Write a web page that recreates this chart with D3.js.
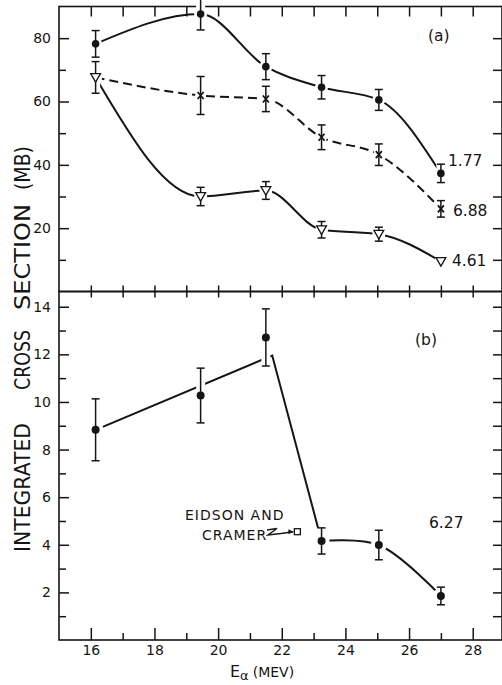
<!DOCTYPE html>
<meta charset="utf-8">
<head>
    <title>Integrated cross section vs E alpha</title>
    <script type="text/javascript" src="https://cdn.jsdelivr.net/npm/d3@7"></script>
    <style>
        body { margin: 0; background: white; }
        text { font-family: "DejaVu Sans", sans-serif; fill: #151515; }
    </style>
</head>
<body>
<script>
    // values
    let energies = [16.15, 19.45, 21.5, 23.25, 25.05, 27.0]

    // panel (a), three levels
    let xs177 = [78.2, 87.6, 71.0, 64.5, 60.5, 37.3]
    let err177 = [4.2, 5.0, 4.1, 3.7, 3.3, 2.9]
    let xs688 = [67.6, 61.9, 60.8, 48.7, 43.2, 26.1]
    let err688 = [null, 6.0, 4.0, 3.9, 3.4, 2.6]
    let xs461 = [67.6, 30.0, 31.9, 19.5, 18.1, 9.5]
    let err461 = [5.0, 2.9, 2.8, 2.6, 2.2, null]

    // panel (b), 6.27 level
    let xs627 = [8.83, 10.27, 12.71, 4.16, 3.99, 1.85]
    let err627 = [1.3, 1.15, 1.2, 0.55, 0.62, 0.37]
    // straight part of the drawn line in (b)
    let fitBx = [16.15, 21.7, 23.25]
    let fitBy = [8.83, 11.95, 4.16]
    // Eidson and Cramer point
    let eidsonE = [22.49]
    let eidsonXs = [4.55]

    let ticksA = [20, 40, 60, 80]
    let ticksB = [2, 4, 6, 8, 10, 12, 14]
    let ticksE = [16, 18, 20, 22, 24, 26, 28]

    let w = 502, h = 685

    let svg = d3.select("body").append("svg")
        .attr("width", w)
        .attr("height", h)

    let x = d3.scaleLinear().domain([15, 28.92]).range([59, 502])
    let yA = d3.scaleLinear().domain([0, 90]).range([291.5, 6.5])
    let yB = d3.scaleLinear().domain([0, 14.64]).range([640, 291.5])

    let ink = "#151515"

    // frames
    svg.append("rect")
        .attr("x", x(15)).attr("y", yA(90))
        .attr("width", x(28.92) - x(15)).attr("height", yA(0) - yA(90))
        .attr("fill", "none").attr("stroke", ink).attr("stroke-width", 1.6)
    svg.append("rect")
        .attr("x", x(15)).attr("y", yB(14.64))
        .attr("width", x(28.92) - x(15)).attr("height", yB(0) - yB(14.64))
        .attr("fill", "none").attr("stroke", ink).attr("stroke-width", 1.6)

    let allE = d3.range(16, 29)
    let oddE = allE.filter(d => d % 2 == 1)

    function clean(g) {
        g.select(".domain").remove()
        g.selectAll("line").attr("stroke", ink).attr("stroke-width", 1.5)
        g.selectAll("text").attr("font-size", 14).attr("font-family", "DejaVu Sans").attr("fill", ink)
    }

    // top edge ticks (inward)
    svg.append("g").attr("transform", "translate(0," + yA(90) + ")")
        .call(d3.axisTop(x).tickValues(allE).tickSize(-10).tickFormat(""))
        .call(clean)
    // shared edge between panels, ticks crossing
    svg.append("g").attr("transform", "translate(0," + yA(0) + ")")
        .call(d3.axisTop(x).tickValues(allE).tickSize(6).tickFormat(""))
        .call(clean)
    svg.append("g").attr("transform", "translate(0," + yA(0) + ")")
        .call(d3.axisBottom(x).tickValues(allE).tickSize(6).tickFormat(""))
        .call(clean)
    // bottom axis
    svg.append("g").attr("transform", "translate(0," + yB(0) + ")")
        .call(d3.axisBottom(x).tickValues(ticksE).tickSize(-12).tickPadding(5).tickFormat(d3.format("d")))
        .call(clean)
    svg.append("g").attr("transform", "translate(0," + yB(0) + ")")
        .call(d3.axisBottom(x).tickValues(oddE).tickSize(-7).tickFormat(""))
        .call(clean)

    // left axis panel (a)
    svg.append("g").attr("transform", "translate(" + x(15) + ",0)")
        .call(d3.axisLeft(yA).tickValues(ticksA).tickSize(-10).tickPadding(8))
        .call(clean)
    svg.append("g").attr("transform", "translate(" + x(15) + ",0)")
        .call(d3.axisLeft(yA).tickValues([10, 30, 50, 70]).tickSize(-7).tickFormat(""))
        .call(clean)
    // right axis panel (a)
    svg.append("g").attr("transform", "translate(" + x(28.92) + ",0)")
        .call(d3.axisRight(yA).tickValues(d3.range(10, 90, 10)).tickSize(-9).tickFormat(""))
        .call(clean)

    // left axis panel (b)
    svg.append("g").attr("transform", "translate(" + x(15) + ",0)")
        .call(d3.axisLeft(yB).tickValues(ticksB).tickSize(-10).tickPadding(8))
        .call(clean)
    svg.append("g").attr("transform", "translate(" + x(15) + ",0)")
        .call(d3.axisLeft(yB).tickValues(d3.range(1, 14, 2)).tickSize(-7).tickFormat(""))
        .call(clean)
    svg.append("g").attr("transform", "translate(" + x(28.92) + ",0)")
        .call(d3.axisRight(yB).tickValues(d3.range(1, 15)).tickSize(-9).tickFormat(""))
        .call(clean)

    // curves
    let smooth = d3.curveMonotoneX

    function drawCurve(ys, yScale, dash) {
        let pts = energies.map((e, i) => [x(e), yScale(ys[i])])
        svg.append("path")
            .attr("d", d3.line().curve(smooth)(pts))
            .attr("fill", "none")
            .attr("stroke", ink)
            .attr("stroke-width", 2)
            .attr("stroke-dasharray", dash || null)
    }

    drawCurve(xs177, yA)
    drawCurve(xs688, yA, "9,5")
    drawCurve(xs461, yA)

    // panel (b) line: straight fit, drop, then smooth through the last three points
    svg.append("path")
        .attr("d", d3.line()(fitBx.map((e, i) => [x(e), yB(fitBy[i])])))
        .attr("fill", "none").attr("stroke", ink).attr("stroke-width", 2)
    svg.append("path")
        .attr("d", d3.line().curve(d3.curveCatmullRom)(energies.slice(3).map((e, i) => [x(e), yB(xs627.slice(3)[i])])))
        .attr("fill", "none").attr("stroke", ink).attr("stroke-width", 2)

    // white gaps where the hand drawn lines stop short of the points
    function gaps(ys, errs, yScale, r) {
        energies.forEach(function (e, i) {
            svg.append("circle")
                .attr("cx", x(e)).attr("cy", yScale(ys[i])).attr("r", r)
                .attr("fill", "white")
            if (errs[i] != null) {
                svg.append("line")
                    .attr("x1", x(e)).attr("x2", x(e))
                    .attr("y1", yScale(ys[i] + errs[i])).attr("y2", yScale(ys[i] - errs[i]))
                    .attr("stroke", "white").attr("stroke-width", 9)
            }
        })
    }
    gaps(xs177, err177, yA, 6.5)
    gaps(xs688, err688, yA, 5.5)
    gaps(xs461, err461, yA, 6.5)
    gaps(xs627, err627, yB, 8)

    // error bars
    function errorBars(ys, errs, yScale) {
        energies.forEach(function (e, i) {
            if (errs[i] == null) return
            let top = yScale(ys[i] + errs[i]), bot = yScale(ys[i] - errs[i])
            let g = svg.append("g").attr("stroke", ink).attr("stroke-width", 1.5)
            g.append("line").attr("x1", x(e)).attr("x2", x(e)).attr("y1", top).attr("y2", bot)
            g.append("line").attr("x1", x(e) - 4).attr("x2", x(e) + 4).attr("y1", top).attr("y2", top)
            g.append("line").attr("x1", x(e) - 4).attr("x2", x(e) + 4).attr("y1", bot).attr("y2", bot)
        })
    }
    errorBars(xs177, err177, yA)
    errorBars(xs688, err688, yA)
    errorBars(xs461, err461, yA)
    errorBars(xs627, err627, yB)

    // markers
    svg.selectAll(".dotA")
        .data(energies)
        .enter()
        .append("circle")
        .attr("cx", d => x(d))
        .attr("cy", (d, i) => yA(xs177[i]))
        .attr("r", 3.8)
        .attr("fill", ink)

    svg.selectAll(".dotB")
        .data(energies)
        .enter()
        .append("circle")
        .attr("cx", d => x(d))
        .attr("cy", (d, i) => yB(xs627[i]))
        .attr("r", 4)
        .attr("fill", ink)

    // x marks for 6.88 (first point sits under the triangle)
    energies.forEach(function (e, i) {
        if (i == 0) return
        let cx = x(e), cy = yA(xs688[i])
        svg.append("path")
            .attr("d", "M" + (cx - 3) + "," + (cy - 3.5) + "L" + (cx + 3) + "," + (cy + 3.5) +
                "M" + (cx + 3) + "," + (cy - 3.5) + "L" + (cx - 3) + "," + (cy + 3.5))
            .attr("stroke", ink).attr("stroke-width", 1.8)
    })

    // open down-triangles for 4.61
    let tri = d3.symbol().type(d3.symbolTriangle).size(42)
    svg.selectAll(".tri")
        .data(energies)
        .enter()
        .append("path")
        .attr("d", tri)
        .attr("transform", (d, i) => "translate(" + x(d) + "," + (yA(xs461[i]) - 1) + ") rotate(180)")
        .attr("fill", "white")
        .attr("stroke", ink)
        .attr("stroke-width", 1.3)

    // Eidson and Cramer open square
    svg.selectAll(".sq")
        .data(eidsonE)
        .enter()
        .append("rect")
        .attr("x", d => x(d) - 3)
        .attr("y", (d, i) => yB(eidsonXs[i]) - 3)
        .attr("width", 6).attr("height", 6)
        .attr("fill", "white").attr("stroke", ink).attr("stroke-width", 1.3)

    // labels on curves
    let lab = svg.append("g").attr("font-size", 15.5)
    lab.append("text").attr("x", x(27) + 7).attr("y", 166).text("1.77")
    lab.append("text").attr("x", x(27) + 12).attr("y", 216).text("6.88")
    lab.append("text").attr("x", x(27) + 11).attr("y", 266).text("4.61")
    lab.append("text").attr("x", 428).attr("y", 41).text("(a)")
    lab.append("text").attr("x", 415).attr("y", 345).text("(b)")
    lab.append("text").attr("x", 429).attr("y", 528).text("6.27")

    // Eidson and Cramer note with squiggle arrow
    let note = svg.append("g").attr("font-size", 14).attr("letter-spacing", "1px")
    note.append("text").attr("x", 185).attr("y", 520).text("EIDSON  AND")
    note.append("text").attr("x", 202).attr("y", 540).text("CRAMER")
    let sqx = x(eidsonE[0]) - 4, sqy = yB(eidsonXs[0])
    svg.append("path")
        .attr("d", "M267,530 L277,528.5 L268,535 L281,533.5 L" + sqx + "," + sqy)
        .attr("fill", "none").attr("stroke", ink).attr("stroke-width", 1.4)
    svg.append("path")
        .attr("d", "M" + sqx + "," + sqy + " l-5,-2.5 l0,5 z")
        .attr("fill", ink)

    // y title, word by word: [word, start from bottom, length] as measured on the figure
    let yWords = [["INTEGRATED", 552, 129], ["CROSS", 390, 60], ["SECTION", 310, 106], ["(MB)", 190, 44]]
    yWords.forEach(function (wd) {
        svg.append("text")
            .attr("transform", "translate(30," + wd[1] + ") rotate(-90)")
            .attr("font-size", 22)
            .attr("textLength", wd[2])
            .attr("lengthAdjust", "spacingAndGlyphs")
            .text(wd[0])
    })

    let xt = svg.append("text").attr("x", 230).attr("y", 677)
    xt.append("tspan").attr("font-size", 16).text("E")
    xt.append("tspan").attr("font-size", 13).attr("dy", 3).text("α")
    xt.append("tspan").attr("font-size", 14).attr("dy", -3).attr("dx", 4).text("(MEV)")
</script>
</body>
</html>
